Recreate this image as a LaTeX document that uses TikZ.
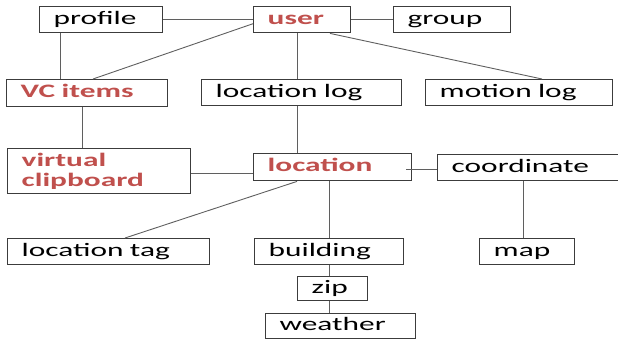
\documentclass[tikz,border=0pt]{standalone}
\usepackage{fontspec}
\setmainfont{Carlito}[FakeStretch=1.65]
\usepackage{tikz}
\usetikzlibrary{calc,positioning}
\definecolor{keyred}{RGB}{192,80,77}
\definecolor{boxgray}{RGB}{60,60,60}
\definecolor{linkgray}{RGB}{95,95,95}

\begin{document}
\begin{tikzpicture}[x=1pt,y=-1pt,
    ent/.style={draw=boxgray, line width=1.4pt, rectangle, anchor=north west, align=left,
      inner xsep=14pt, inner ysep=0pt, text height=13pt, text depth=4pt,
      minimum height=26pt, font=\fontsize{19}{20}\selectfont},
    key/.style={ent, text=keyred, font=\fontsize{19}{20}\selectfont\bfseries},
    link/.style={draw=linkgray, line width=0.9pt}]
  \useasboundingbox (0,0) rectangle (618,340);
  % top row
  \node[ent, text width=95pt] (profile) at (39,6) {profile};
  \node[key, text width=69pt] (user) at (253,6) {user};
  \node[ent, text width=89pt] (group) at (393,6) {group};
  % second row
  \node[key, text width=133pt, minimum height=27pt] (vcitems) at (6,79) {VC items};
  \node[ent, text width=172pt] (loclog) at (201,79) {location log};
  \node[ent, text width=159pt] (motionlog) at (425,79) {motion log};
  % third row
  \node[key, text width=155pt, text height={}, text depth={}, minimum height=45pt]
    (clipboard) at (7,148) {virtual\\clipboard};
  \node[key, text width=130pt, minimum height=27pt] (location) at (253,153) {location};
  \node[ent, text width=155pt] (coordinate) at (437,154) {coordinate};
  % bottom rows
  \node[ent, text width=174pt] (loctag) at (7,238) {location tag};
  \node[ent, text width=121pt] (building) at (254,238) {building};
  \node[ent, text width=67pt] (map) at (479,238) {map};
  \node[ent, text width=42pt, minimum height=24pt] (zip) at (297,276) {zip};
  \node[ent, text width=122pt, minimum height=25pt] (weather) at (265,313) {weather};
  % links from user
  \draw[link] (profile.east) -- (user.west);
  \draw[link] (user.east) -- (group.west);
  \draw[link] ([yshift=-4pt]user.west) -- ([xshift=87pt]vcitems.north west);
  \draw[link] ([xshift=44pt]user.south west) -- ([xshift=44pt]user.south west |- loclog.north);
  \draw[link] ([xshift=77pt]user.south west) -- ([xshift=117pt]motionlog.north west);
  \draw[link] ([xshift=21pt]profile.south west) -- ([xshift=21pt]profile.south west |- vcitems.north);
  % links to location
  \draw[link] ([xshift=76pt]vcitems.south west) -- ([xshift=76pt]vcitems.south west |- clipboard.north);
  \draw[link] ([xshift=96pt]loclog.south west) -- ([xshift=96pt]loclog.south west |- location.north);
  \draw[link] ([yshift=-2pt]clipboard.east) -- ([yshift=-2pt]clipboard.east -| location.west);
  \draw[link] ([xshift=-6pt,yshift=-2pt]location.east) -- ([yshift=-2pt]location.east -| coordinate.west);
  % links below location
  \draw[link] ([xshift=44pt]location.south west) -- ([xshift=118pt]loctag.north west);
  \draw[link] ([xshift=76pt]location.south west) -- ([xshift=76pt]location.south west |- building.north);
  \draw[link] ([xshift=86pt]coordinate.south west) -- ([xshift=86pt]coordinate.south west |- map.north);
  \draw[link] ([xshift=75pt]building.south west) -- ([xshift=75pt]building.south west |- zip.north);
  \draw[link] ([xshift=32pt]zip.south west) -- ([xshift=32pt]zip.south west |- weather.north);
\end{tikzpicture}
\end{document}
